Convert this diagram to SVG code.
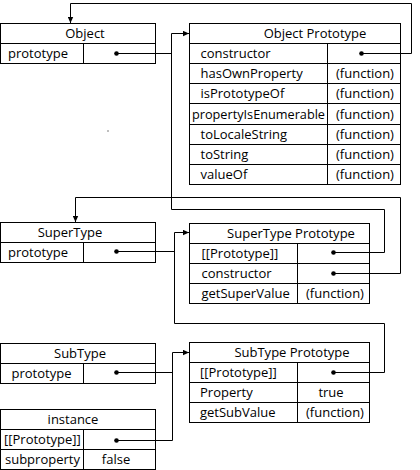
<svg xmlns="http://www.w3.org/2000/svg" width="420" height="470" viewBox="0 0 420 470">
<defs>
<style>
.box{fill:#fff;stroke:#000;stroke-width:1}
.ln{fill:none;stroke:#000;stroke-width:1}
.t{font-family:"Open Sans","Noto Sans",sans-serif;font-size:13px;fill:#000}
.m{text-anchor:middle}
.dot{fill:#000}
</style>
<marker id="arr" viewBox="0 0 6 6" refX="6" refY="3" markerWidth="6" markerHeight="6" markerUnits="userSpaceOnUse" orient="auto">
<path d="M0,0.3 L6,3 L0,5.7 z" fill="#000"/>
</marker>
</defs>
<rect width="420" height="470" fill="#fff"/>

<g id="object">
<rect class="box" x="0.5" y="23.5" width="155" height="40"/>
<path class="ln" d="M0.5,43.5 H155.5 M83.5,43.5 V63.5"/>
<text class="t m" x="85" y="38">Object</text>
<text class="t" x="8" y="58">prototype</text>
<circle class="dot" cx="116.5" cy="53.5" r="2.3"/>
</g>

<g id="object-prototype">
<rect class="box" x="189.5" y="23.5" width="211" height="161"/>
<path class="ln" d="M189.5,43.5 H400.5 M189.5,63.5 H400.5 M189.5,83.5 H400.5 M189.5,103.5 H400.5 M189.5,124.5 H400.5 M189.5,144.5 H400.5 M189.5,164.5 H400.5 M327.5,43.5 V184.5"/>
<text class="t m" x="315" y="38">Object Prototype</text>
<text class="t" x="200.5" y="58">constructor</text>
<circle class="dot" cx="361.5" cy="53.5" r="2.3"/>
<text class="t" x="200.5" y="78">hasOwnProperty</text>
<text class="t m" x="365" y="78">(function)</text>
<text class="t" x="200.5" y="98">isPrototypeOf</text>
<text class="t m" x="365" y="98">(function)</text>
<text class="t" x="192" y="118.5" textLength="133" lengthAdjust="spacingAndGlyphs">propertyIsEnumerable</text>
<text class="t m" x="365" y="118.5">(function)</text>
<text class="t" x="200.5" y="139">toLocaleString</text>
<text class="t m" x="365" y="139">(function)</text>
<text class="t" x="200.5" y="159">toString</text>
<text class="t m" x="365" y="159">(function)</text>
<text class="t" x="200.5" y="179">valueOf</text>
<text class="t m" x="365" y="179">(function)</text>
</g>

<rect x="107.5" y="130.5" width="1" height="1" fill="#000"/>

<g id="supertype">
<rect class="box" x="0.5" y="222.5" width="155" height="40"/>
<path class="ln" d="M0.5,242.5 H155.5 M83.5,242.5 V262.5"/>
<text class="t m" x="70" y="237">SuperType</text>
<text class="t" x="8" y="257">prototype</text>
<circle class="dot" cx="116.5" cy="251.5" r="2.3"/>
</g>

<g id="supertype-prototype">
<rect class="box" x="189.5" y="223.5" width="180" height="80"/>
<path class="ln" d="M189.5,243.5 H369.5 M189.5,263.5 H369.5 M189.5,283.5 H369.5 M297.5,243.5 V303.5"/>
<text class="t m" x="291" y="238">SuperType Prototype</text>
<text class="t" x="201.5" y="258">[[Prototype]]</text>
<circle class="dot" cx="333.5" cy="252.5" r="2.3"/>
<text class="t" x="201.5" y="278">constructor</text>
<circle class="dot" cx="333.5" cy="273.5" r="2.3"/>
<text class="t" x="201.5" y="298">getSuperValue</text>
<text class="t m" x="335" y="298">(function)</text>
</g>

<g id="subtype">
<rect class="box" x="0.5" y="343.5" width="155" height="40"/>
<path class="ln" d="M0.5,363.5 H155.5 M83.5,363.5 V383.5"/>
<text class="t m" x="80" y="358">SubType</text>
<text class="t" x="11.5" y="378">prototype</text>
<circle class="dot" cx="116.5" cy="372.5" r="2.3"/>
</g>

<g id="subtype-prototype">
<rect class="box" x="189.5" y="342.5" width="180" height="80"/>
<path class="ln" d="M189.5,362.5 H369.5 M189.5,382.5 H369.5 M189.5,402.5 H369.5 M297.5,362.5 V422.5"/>
<text class="t m" x="292" y="357">SubType Prototype</text>
<text class="t" x="200" y="377">[[Prototype]]</text>
<circle class="dot" cx="333.5" cy="372.5" r="2.3"/>
<text class="t" x="200" y="397">Property</text>
<text class="t m" x="331" y="397">true</text>
<text class="t" x="200" y="417">getSubValue</text>
<text class="t m" x="335" y="417">(function)</text>
</g>

<g id="instance">
<rect class="box" x="0.5" y="409.5" width="155" height="60"/>
<path class="ln" d="M0.5,429.5 H155.5 M0.5,449.5 H155.5 M83.5,429.5 V469.5"/>
<text class="t m" x="73" y="424">instance</text>
<text class="t" x="4" y="444">[[Prototype]]</text>
<circle class="dot" cx="116.5" cy="440.5" r="2.3"/>
<text class="t" x="5" y="464">subproperty</text>
<text class="t m" x="116" y="464">false</text>
</g>

<g id="connectors">
<path class="ln" d="M361.5,53.5 H411.5 V3.5 H70.5 V23" marker-end="url(#arr)"/>
<path class="ln" d="M116.5,53.5 H171.5"/>
<path class="ln" d="M333.5,252.5 H384.5 V209.5 H171.5 V33.5 H189" marker-end="url(#arr)"/>
<path class="ln" d="M333.5,273.5 H400.5 V197.5 H75.5 V222" marker-end="url(#arr)"/>
<path class="ln" d="M116.5,251.5 H174.5"/>
<path class="ln" d="M333.5,372.5 H384.5 V323.5 H174.5 V232.5 H189" marker-end="url(#arr)"/>
<path class="ln" d="M116.5,372.5 H172.5"/>
<path class="ln" d="M116.5,440.5 H172.5 V352.5 H189" marker-end="url(#arr)"/>
</g>
</svg>
